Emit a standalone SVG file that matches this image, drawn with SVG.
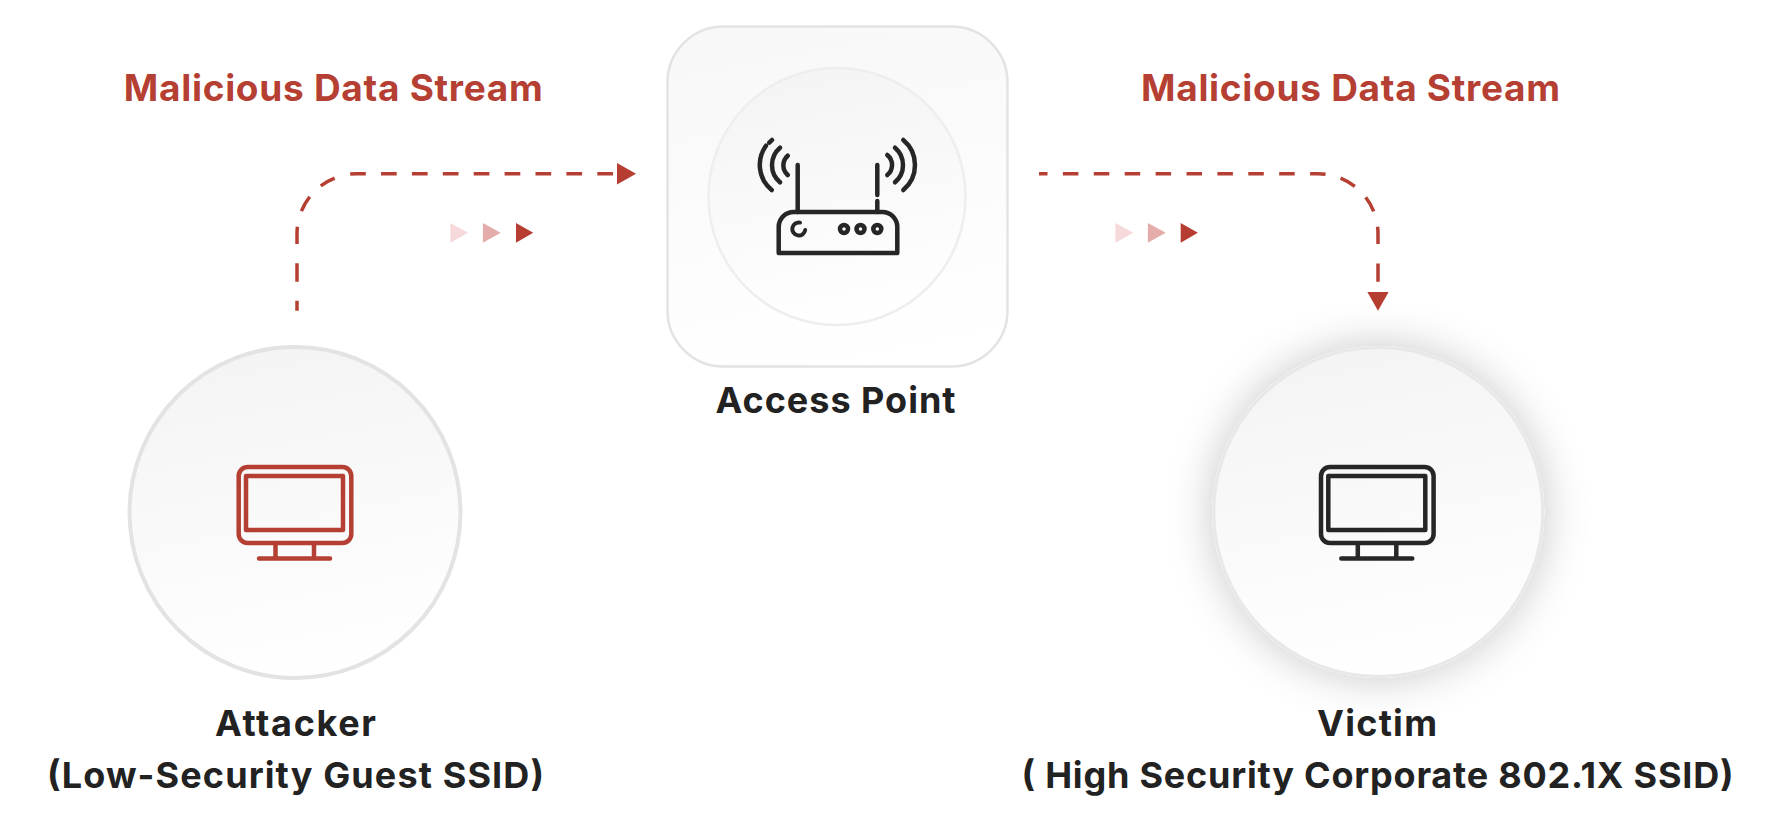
<svg xmlns="http://www.w3.org/2000/svg" width="1770" height="824" viewBox="0 0 1770 824">
<style>
text{font-family:"Inter","Noto Sans","Liberation Sans",sans-serif;font-weight:650}
.lbl{font-size:36px;fill:#222222}
.red{font-size:37px;fill:#b53f33}
.link{fill:none;stroke:#b53f33;stroke-width:3.5}
.ic{fill:none;stroke-width:4.5;stroke-linecap:round;stroke-linejoin:round}
.dark{stroke:#262626}
.rust{stroke:#b53f33}
.ring{stroke:#e3e3e3;stroke-width:4;fill:url(#soft)}
.t1{fill:#f6d9db}.t2{fill:#e4acaa}.t3{fill:#b53d32}
</style>
<defs>
<linearGradient id="soft" x1="0.4" y1="0" x2="0.6" y2="1"><stop offset="0" stop-color="#f4f4f4"/><stop offset="1" stop-color="#ffffff"/></linearGradient>
<linearGradient id="softer" x1="0.4" y1="0" x2="0.6" y2="1"><stop offset="0" stop-color="#f8f8f8"/><stop offset="1" stop-color="#ffffff"/></linearGradient>
<filter id="glow" x="-40%" y="-40%" width="180%" height="180%"><feDropShadow dx="0" dy="0" stdDeviation="22" flood-color="#1a1a2a" flood-opacity="0.22"/></filter>
<marker id="head" markerUnits="userSpaceOnUse" markerWidth="20" markerHeight="24" refX="0" refY="12" orient="auto"><path d="M0 1.2L19 12L0 22.8Z" fill="#b53d32"/></marker>
</defs>
<rect width="1770" height="824" fill="#ffffff"/>
<g id="connectors">
<path class="link" marker-end="url(#head)" stroke-dasharray="10 19 18.4 19.3 17.3 16.1 16.7 15.4 16 16 15.7 15.2 15.7 15.2 15.7 15.2 15.7 15.2 15.7 15.2 15.7 15.2 15.7 15.2 15.7 15.2 15.7 30" d="M297 310.7V233.7A60 60 0 0 1 357 173.7H617"/>
<path class="link" marker-end="url(#head)" stroke-dasharray="8.5 15.4 15.5 15.4 15.5 15.4 15.5 15.4 15.5 15.4 15.5 15.4 15.5 15.4 15.5 15.4 15.5 15.4 15.5 15.5 16.5 15.4 16.2 15.8 17.5 19.3 18.4 30" d="M1039 173.7H1318A60 60 0 0 1 1378 233.7V291.7"/>
<path class="t1" d="M450.4 223V242.7L468.2 232.8Z"/><path class="t2" d="M482.9 223V242.7L500.7 232.8Z"/><path class="t3" d="M516 223V242.7L533.2 232.8Z"/>
<path class="t1" d="M1115.4 223V242.7L1133.2 232.8Z"/><path class="t2" d="M1147.9 223V242.7L1165.7 232.8Z"/><path class="t3" d="M1180.7 223V242.7L1197.9 232.8Z"/>
</g>
<g id="attacker">
<circle class="ring" cx="295" cy="512.5" r="165.5"/>
<g class="ic rust">
<rect x="238.7" y="467" width="112.6" height="76" rx="9"/>
<rect x="246" y="476" width="97" height="54"/>
<path d="M275.5 545V558M314 545V558M259 558.5H330"/>
</g>
<text class="lbl" x="295.5" y="736" text-anchor="middle" textLength="161">Attacker</text>
<text class="lbl" x="295.5" y="788" text-anchor="middle" textLength="497">(Low-Security Guest SSID)</text>
</g>
<g id="access-point">
<rect x="667.5" y="26.5" width="340" height="340" rx="56" fill="url(#softer)" stroke="#e3e3e3" stroke-width="2.5"/>
<circle cx="837" cy="196.5" r="128.5" fill="url(#soft)" stroke="#eeeeee" stroke-width="2.5"/>
<g class="ic dark">
<path d="M778.7 253V227A15 15 0 0 1 793.7 212H882.3A15 15 0 0 1 897.3 227V253Z"/>
<path d="M797.7 165V212M877.3 165V195M877.3 201V212"/>
<path d="M787.7 155.7A12.9 12.9 0 0 0 787.7 175M780 147.7A22.7 22.7 0 0 0 780 182.3M771.7 190A32.6 32.6 0 0 1 766 145.7M769.3 142.7L772 140"/>
<path d="M887.3 155A12.9 12.9 0 0 1 887.3 175M895 147.7A22.7 22.7 0 0 1 895 182.3M903.3 140A32.6 32.6 0 0 1 903.3 190"/>
<path d="M800 222.6A6.5 6.5 0 1 0 805.2 230" stroke-width="4"/>
<circle cx="844" cy="229" r="4" stroke-width="4.5"/><circle cx="860.5" cy="229" r="4" stroke-width="4.5"/><circle cx="877.3" cy="229" r="4" stroke-width="4.5"/>
</g>
<text class="lbl" x="835.5" y="413" text-anchor="middle" textLength="240">Access Point</text>
</g>
<g id="victim">
<circle class="ring" style="stroke:#e8e8e8;stroke-width:3" cx="1378.3" cy="512" r="164.5" filter="url(#glow)"/>
<g class="ic dark">
<rect x="1321" y="467" width="112.6" height="76" rx="9"/>
<rect x="1328.3" y="476" width="97" height="54"/>
<path d="M1357.8 545V558M1396.3 545V558M1341.3 558.5H1412.3"/>
</g>
<text class="lbl" x="1377" y="736" text-anchor="middle" textLength="120">Victim</text>
<text class="lbl" x="1377.5" y="788" text-anchor="middle" textLength="712">( High Security Corporate 802.1X SSID)</text>
</g>
<g id="stream-labels">
<text class="red" x="333.3" y="101" text-anchor="middle" textLength="419">Malicious Data Stream</text>
<text class="red" x="1350.5" y="101" text-anchor="middle" textLength="419">Malicious Data Stream</text>
</g>
</svg>
